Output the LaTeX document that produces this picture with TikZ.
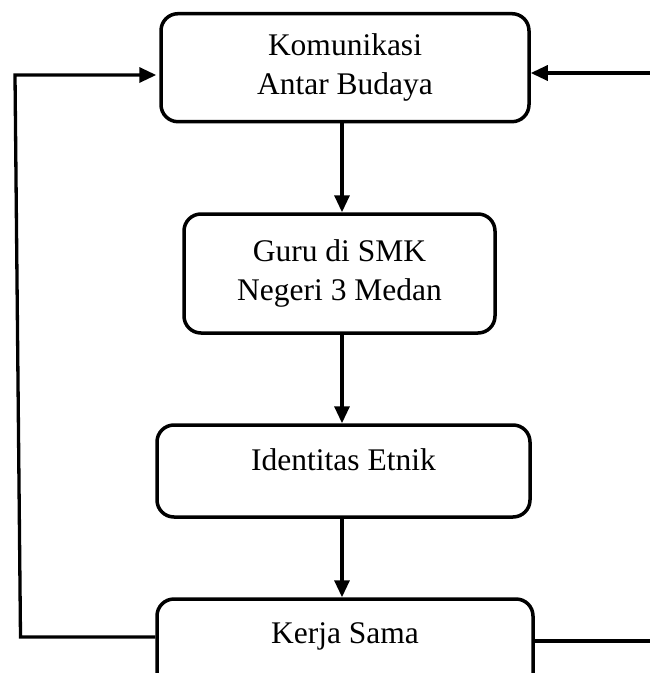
\documentclass[tikz,border=0pt]{standalone}
\usepackage{fontspec}
\setmainfont{Liberation Serif}
\usetikzlibrary{arrows.meta}
\begin{document}
\begin{tikzpicture}[x=1pt,y=-1pt,
  box/.style={draw=black,line width=3.5pt,rounded corners=17pt,inner sep=0pt,
    align=center,font=\fontsize{31.5}{38.5}\selectfont},
  arr/.style={draw=black,line width=3.3pt,-{Triangle[length=17pt,width=15pt]}},
  plain/.style={draw=black,line width=3.3pt}]
\useasboundingbox (0,0) rectangle (650,673);
\clip (0,0) rectangle (650,673);
\fill[white] (0,0) rectangle (650,673);
\node[box,minimum width=368pt,minimum height=108pt] (b1) at (345,67.7) {Komunikasi\\Antar Budaya};
\node[box,minimum width=311pt,minimum height=119pt] (b2) at (339.5,273.5) {Guru di SMK\\Negeri 3 Medan};
\node[box,minimum width=373pt,minimum height=92pt,text height=21.5pt,text depth=23.5pt] (b3) at (343.5,471) {Identitas Etnik};
\node[box,minimum width=376pt,minimum height=92pt,text height=21.5pt,text depth=25.5pt] (b4) at (345,645) {Kerja Sama};
\coordinate (ax) at (342,0);
\coordinate (lt) at (15,75);
\coordinate (lb) at (20.5,637);
\coordinate (rt) at (650,73);
\coordinate (rb) at (650,641);
\draw[arr] (b1.south -| ax) -- (b2.north -| ax);
\draw[arr] (b2.south -| ax) -- (b3.north -| ax);
\draw[arr] (b3.south -| ax) -- (b4.north -| ax);
\draw[arr,shorten >=3pt] (b4.west |- lb) -- (lb) -- (lt) -- (b1.west |- lt);
\draw[arr] (rt) -- (b1.east |- rt);
\draw[plain] (b4.east |- rb) -- (rb);
\end{tikzpicture}
\end{document}
